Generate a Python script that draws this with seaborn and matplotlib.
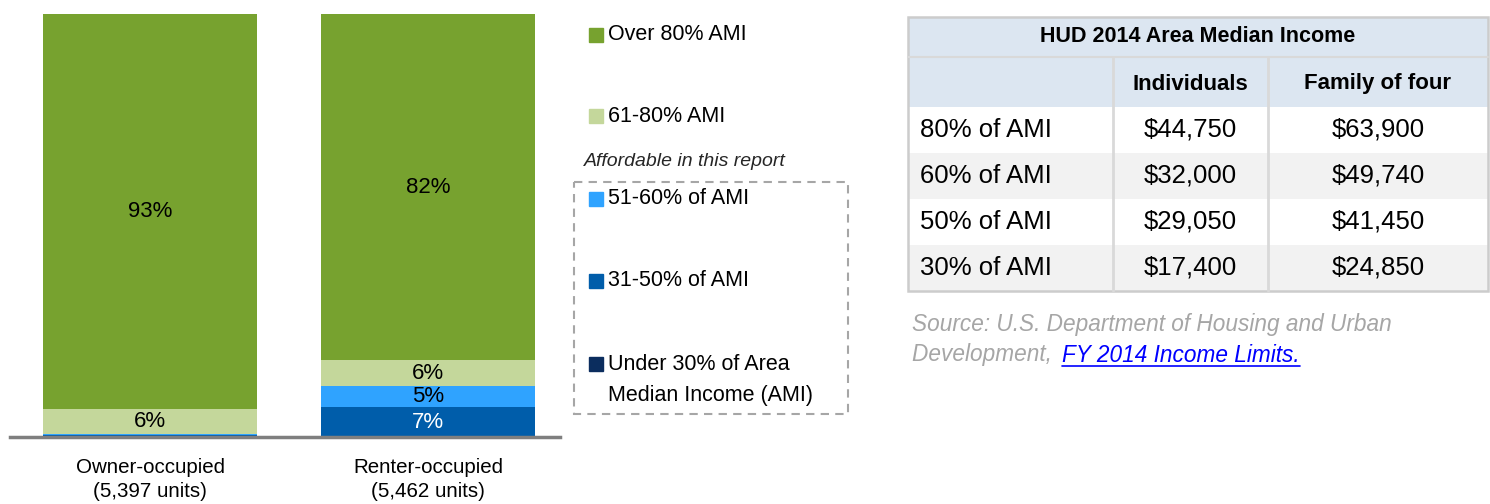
import numpy as np
import pandas as pd
import matplotlib
matplotlib.use('Agg')
import matplotlib.pyplot as plt
from matplotlib.patches import Rectangle
import seaborn as sns

# bar data (percent of units)
tenure = ['Owner-occupied\n(5,397 units)', 'Renter-occupied\n(5,462 units)']
levels = ['Under 30% of Area\nMedian Income (AMI)', '31-50% of AMI', '51-60% of AMI',
          '61-80% AMI', 'Over 80% AMI']
under_30 = [0.2, 0.0]
ami_31_50 = [0.3, 7.0]
ami_51_60 = [0.3, 5.0]
ami_61_80 = [5.9, 6.2]
over_80 = [93.3, 81.8]
colors = ['#0B2D5E', '#005DAA', '#2FA3FF', '#C4D79B', '#77A22F']

# HUD table
table_title = 'HUD 2014 Area Median Income'
table_cols = ['Individuals', 'Family of four']
hud_rows = ['80% of AMI', '60% of AMI', '50% of AMI', '30% of AMI']
individuals = ['$44,750', '$32,000', '$29,050', '$17,400']
family_of_four = ['$63,900', '$49,740', '$41,450', '$24,850']

sns.set_style('white')
plt.rcParams['font.family'] = ['Liberation Sans', 'DejaVu Sans']
plt.rcParams['text.color'] = 'black'
plt.rcParams['xtick.color'] = 'black'

W, H = 1490, 504
fig = plt.figure(figsize=(W / 100, H / 100), dpi=100)

# ---- stacked bars
ax = fig.add_axes([10 / W, (H - 437) / H, 550 / W, 423 / H])
cols = ['u30', 'a31', 'a51', 'a61', 'o80']
df = pd.DataFrame({'tenure': tenure, 'u30': under_30, 'a31': ami_31_50,
                   'a51': ami_51_60, 'a61': ami_61_80, 'o80': over_80})
cum = df[cols].cumsum(axis=1)
cum['tenure'] = df['tenure']
for col, c in reversed(list(zip(cols, colors))):
    sns.barplot(data=cum, x='tenure', y=col, color=c, width=0.77, saturation=1,
                errorbar=None, linewidth=0, ax=ax)

for i in range(len(tenure)):
    for col in cols:
        v = df.loc[i, col]
        if v >= 3:
            ax.text(i, cum.loc[i, col] - v / 2, f'{v:.0f}%', ha='center', va='center',
                    fontsize=16, color='white' if col == 'a31' else 'black')

ax.set_xlim(-0.504, 1.475)
ax.set_ylim(0, 100)
ax.set_xlabel('')
ax.set_ylabel('')
ax.set_yticks([])
for s in ['top', 'right', 'left']:
    ax.spines[s].set_visible(False)
ax.spines['bottom'].set_color('#7F7F7F')
ax.spines['bottom'].set_linewidth(2.5)
ax.tick_params(axis='x', length=0, pad=15, labelsize=14.8, labelcolor='black')
for t in ax.get_xticklabels():
    t.set_linespacing(1.35)

# ---- overlay for legend, table, source
ov = fig.add_axes([0, 0, 1, 1])
ov.set_xlim(0, W)
ov.set_ylim(H, 0)
ov.axis('off')
ov.patch.set_alpha(0)

leg_y = [364, 281, 199, 116, 35]
for lab, c, y in zip(levels, colors, leg_y):
    ov.add_patch(Rectangle((589, y - 7), 14, 14, color=c))
    for k, line in enumerate(lab.split('\n')):
        ov.text(608, y + k * 31, line, va='center', ha='left', fontsize=15.5, color='black')
ov.text(584, 161, 'Affordable in this report', style='italic', fontsize=14,
        va='center', ha='left', color='#262626')
ov.add_patch(Rectangle((574, 182), 274, 232, fill=False, ec='#A6A6A6', lw=1.5,
                       ls=(0, (4, 3))))

# table
xs = [908, 1113, 1268, 1488]
ys = [17, 57, 107, 153, 199, 245, 291]
ov.add_patch(Rectangle((xs[0], ys[0]), xs[3] - xs[0], ys[2] - ys[0], color='#DCE6F1', lw=0))
for r in range(4):
    fc = 'white' if r % 2 == 0 else '#F2F2F2'
    ov.add_patch(Rectangle((xs[0], ys[r + 2]), xs[3] - xs[0], ys[r + 3] - ys[r + 2], color=fc, lw=0))
grid = '#D9D9D9'
ov.plot([xs[0], xs[3]], [ys[1], ys[1]], color=grid, lw=1.5)
for x in xs[1:3]:
    ov.plot([x, x], [ys[1], ys[6]], color=grid, lw=2)
ov.add_patch(Rectangle((xs[0], ys[0]), xs[3] - xs[0], ys[6] - ys[0], fill=False, ec='#CCCCCC', lw=1.8))

narrow = ['Liberation Sans Narrow', 'Liberation Sans', 'DejaVu Sans']
ov.text((xs[0] + xs[3]) / 2, (ys[0] + ys[1]) / 2, table_title, ha='center', va='center',
        fontsize=15.5, fontweight='bold', family=narrow)
for j, h in enumerate(table_cols):
    ov.text((xs[j + 1] + xs[j + 2]) / 2, (ys[1] + ys[2]) / 2 + 2, h, ha='center', va='center',
            fontsize=16, fontweight='bold', family=narrow)
for r, (lab, a, b) in enumerate(zip(hud_rows, individuals, family_of_four)):
    yc = (ys[r + 2] + ys[r + 3]) / 2
    ov.text(920, yc, lab, ha='left', va='center', fontsize=18.5)
    ov.text((xs[1] + xs[2]) / 2, yc, a, ha='center', va='center', fontsize=18.5)
    ov.text((xs[2] + xs[3]) / 2, yc, b, ha='center', va='center', fontsize=18.5)

# source note
ov.text(912, 325, 'Source: U.S. Department of Housing and Urban', style='italic',
        fontsize=16.3, color='#A6A6A6', va='center', ha='left')
t2 = ov.text(912, 355, 'Development, ', style='italic', fontsize=16.3, color='#A6A6A6',
             va='center', ha='left')
fig.canvas.draw()
bb = t2.get_window_extent()
x_end = ov.transData.inverted().transform((bb.x1, bb.y0))[0]
link = ov.text(x_end + 4, 355, 'FY 2014 Income Limits.', style='italic', fontsize=16.3,
               color='#0000FF', va='center', ha='left')
fig.canvas.draw()
lb = link.get_window_extent()
lx0 = ov.transData.inverted().transform((lb.x0, lb.y0))[0]
lx1 = ov.transData.inverted().transform((lb.x1, lb.y0))[0]
ov.plot([lx0, lx1], [366, 366], color='#0000FF', lw=1.2)

fig.savefig('out.png', dpi=100)
